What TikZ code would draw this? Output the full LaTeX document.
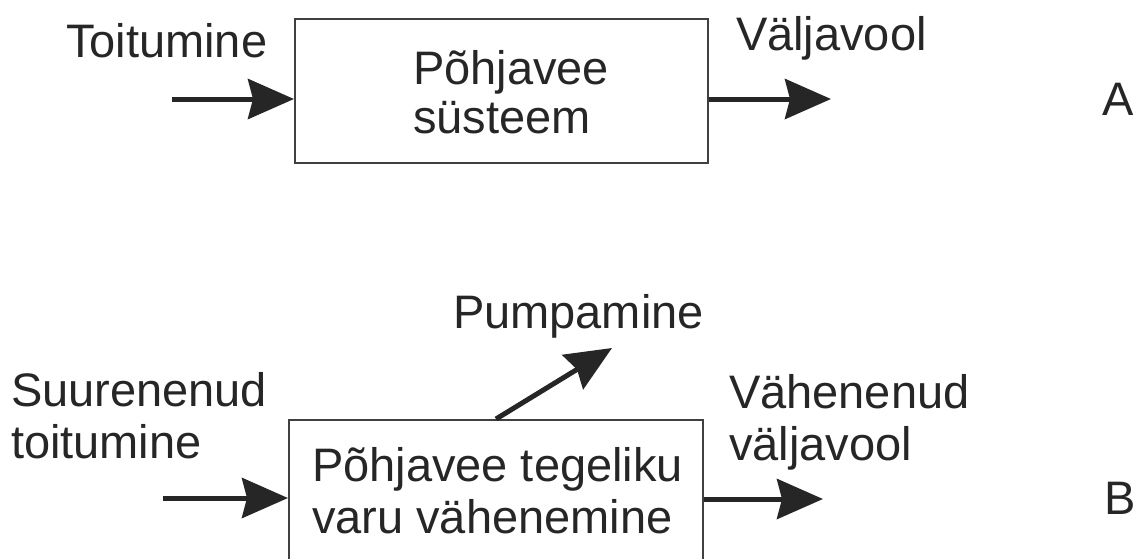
\documentclass[tikz,border=0pt]{standalone}
\usepackage{fontspec}
\setmainfont{Liberation Sans}
\usetikzlibrary{arrows.meta,calc}
\definecolor{ink}{HTML}{262626}
\definecolor{edge}{HTML}{404040}
\tikzset{
  lbl/.style={inner sep=0pt, outer sep=0pt, text=ink, anchor=base west, align=left,
    font=\fontsize{47}{52}\selectfont},
  sysbox/.style={draw=edge, line width=2pt, inner sep=0pt, minimum width=#1, fill=none},
  flow/.style={draw=ink, line width=5pt,
    -{Stealth[length=46pt, width=40pt, inset=5pt]}},
}
\begin{document}
\begin{tikzpicture}[x=1pt, y=-1pt]
\useasboundingbox (0,0) rectangle (1141,558);
\clip (0,0) rectangle (1141,558);
% --- A ---
\node[sysbox=413pt, minimum height=144pt] (boxA) at (501.5,91) {};
\node[lbl, font=\fontsize{47}{49}\selectfont] (tA) at (413,133) {Põhjavee\\süsteem};
\node[lbl] (toit) at (66,57) {Toitumine};
\node[lbl] (valj) at (736,50) {Väljavool};
\node[lbl] (labA) at (1102,115) {A};
\coordinate (inA) at (172,99);
\coordinate (outA) at (831,99);
\draw[flow] (inA) -- (inA -| boxA.west);
\draw[flow] (outA -| boxA.east) -- (outA);
% --- B ---
\node[sysbox=414pt, minimum height=200pt] (boxB) at (496,520) {};
\node[lbl] (tB) at (312,533) {Põhjavee tegeliku\\varu vähenemine};
\node[lbl] (suur) at (11,458) {Suurenenud\\toitumine};
\node[lbl] (pump) at (453,328) {Pumpamine};
\node[lbl] (vah) at (729,460) {Vähenenud\\väljavool};
\node[lbl] (labB) at (1104,514) {B};
\coordinate (inB) at (163,498);
\coordinate (outB) at (823,499);
\coordinate (pumpTip) at (612,348);
\draw[flow] (inB) -- (inB -| boxB.west);
\draw[flow] (outB -| boxB.east) -- (outB);
\draw[flow] ([xshift=208pt]boxB.north west) -- (pumpTip);
\end{tikzpicture}
\end{document}
